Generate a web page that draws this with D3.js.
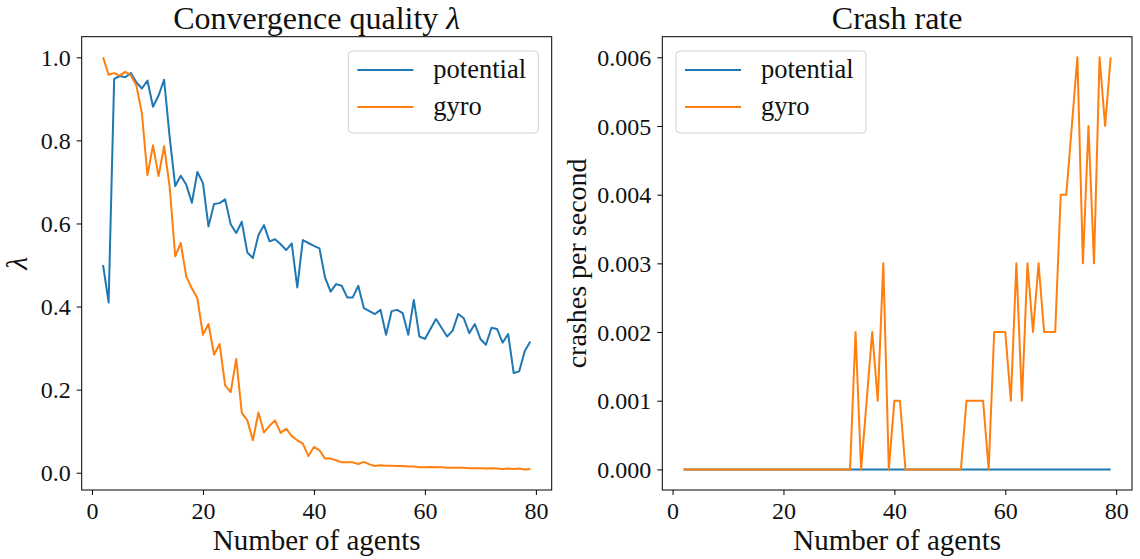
<!DOCTYPE html>
<html>
<head>
<meta charset="utf-8">
<script src="https://cdn.jsdelivr.net/npm/d3@7"></script>
<style>
  body { margin: 0; background: #fff; }
  svg { display: block; font-family: "Liberation Serif", "DejaVu Serif", serif; }
  svg text { font-family: "Liberation Serif", "DejaVu Serif", serif; }
</style>
</head>
<body>
<div id="chart"></div>
<script>
// number of agents (x values)
const agents = [2, 3, 4, 5, 6, 7, 8, 9, 10, 11, 12, 13, 14, 15, 16, 17, 18, 19, 20,
  21, 22, 23, 24, 25, 26, 27, 28, 29, 30, 31, 32, 33, 34, 35, 36, 37, 38, 39, 40,
  41, 42, 43, 44, 45, 46, 47, 48, 49, 50, 51, 52, 53, 54, 55, 56, 57, 58, 59, 60,
  61, 62, 63, 64, 65, 66, 67, 68, 69, 70, 71, 72, 73, 74, 75, 76, 77, 78, 79];

const potentialQuality = [0.50, 0.41, 0.948, 0.955, 0.952, 0.962, 0.94, 0.925, 0.944,
  0.881, 0.908, 0.946, 0.808, 0.69, 0.715, 0.693, 0.65, 0.724, 0.697,
  0.593, 0.647, 0.649, 0.658, 0.598, 0.577, 0.604, 0.53, 0.517, 0.572,
  0.596, 0.557, 0.562, 0.55, 0.536, 0.552, 0.446, 0.56, 0.553, 0.546,
  0.54, 0.47, 0.436, 0.454, 0.45, 0.422, 0.422, 0.45, 0.396, 0.389,
  0.382, 0.392, 0.332, 0.389, 0.392, 0.384, 0.332, 0.416, 0.328, 0.322,
  0.346, 0.37, 0.349, 0.328, 0.342, 0.382, 0.372, 0.336, 0.358, 0.322,
  0.308, 0.349, 0.346, 0.313, 0.334, 0.24, 0.244, 0.293, 0.316];

const gyroQuality = [1.0, 0.958, 0.962, 0.956, 0.965, 0.957, 0.932, 0.865, 0.716,
  0.788, 0.714, 0.786, 0.688, 0.521, 0.553, 0.472, 0.444, 0.42, 0.332,
  0.358, 0.284, 0.31, 0.21, 0.194, 0.274, 0.144, 0.126, 0.078, 0.145,
  0.097, 0.113, 0.126, 0.096, 0.106, 0.088, 0.078, 0.07, 0.04, 0.062,
  0.054, 0.034, 0.034, 0.03, 0.025, 0.025, 0.025, 0.021, 0.026, 0.02,
  0.016, 0.018, 0.017, 0.017, 0.016, 0.016, 0.015, 0.015, 0.013, 0.013,
  0.014, 0.013, 0.013, 0.012, 0.012, 0.012, 0.012, 0.011, 0.011, 0.011,
  0.010, 0.011, 0.010, 0.009, 0.010, 0.009, 0.010, 0.008, 0.009];

const potentialCrash = [0, 0, 0, 0, 0, 0, 0, 0, 0, 0, 0, 0, 0, 0, 0, 0, 0, 0, 0,
  0, 0, 0, 0, 0, 0, 0, 0, 0, 0, 0, 0, 0, 0, 0, 0, 0, 0, 0, 0,
  0, 0, 0, 0, 0, 0, 0, 0, 0, 0, 0, 0, 0, 0, 0, 0, 0, 0, 0, 0,
  0, 0, 0, 0, 0, 0, 0, 0, 0, 0, 0, 0, 0, 0, 0, 0, 0, 0, 0];

const gyroCrash = [0, 0, 0, 0, 0, 0, 0, 0, 0, 0, 0, 0, 0, 0, 0, 0, 0, 0, 0,
  0, 0, 0, 0, 0, 0, 0, 0, 0, 0, 0, 0, 0.002, 0, 0.001, 0.002, 0.001, 0.003, 0, 0.001,
  0.001, 0, 0, 0, 0, 0, 0, 0, 0, 0, 0, 0, 0.001, 0.001, 0.001, 0.001, 0, 0.002, 0.002, 0.002,
  0.001, 0.003, 0.001, 0.003, 0.002, 0.003, 0.002, 0.002, 0.002, 0.004, 0.004, 0.005, 0.006, 0.003, 0.005, 0.003, 0.006, 0.005, 0.006];

const seriesNames = ["potential", "gyro"];
const xTicks = [0, 20, 40, 60, 80];
const qualityTicks = [0.0, 0.2, 0.4, 0.6, 0.8, 1.0];
const crashTicks = [0.000, 0.001, 0.002, 0.003, 0.004, 0.005, 0.006];

const colors = ["#1f77b4", "#ff7f0e"];
const W = 1140, H = 559;
const serif = "'Liberation Serif', 'DejaVu Serif', serif";

const svg = d3.select("#chart").append("svg")
  .attr("width", W)
  .attr("height", H);

// matplotlib-style 5% margins
function padded(extent) {
  const d = (extent[1] - extent[0]) * 0.05;
  return [extent[0] - d, extent[1] + d];
}

function drawPanel(opts) {
  const xDom = padded(d3.extent(agents));
  const allY = opts.series.flat();
  const yDom = padded(d3.extent(allY));

  const x = d3.scaleLinear().domain(xDom).range([opts.left, opts.right]);
  const y = d3.scaleLinear().domain(yDom).range([opts.bottom, opts.top]);

  const g = svg.append("g");

  // lines
  const line = d3.line()
    .x((d, i) => x(agents[i]))
    .y(d => y(d));

  opts.series.forEach((s, k) => {
    g.append("path")
      .datum(s)
      .attr("fill", "none")
      .attr("stroke", colors[k])
      .attr("stroke-width", 2)
      .attr("stroke-linejoin", "round")
      .attr("d", line);
  });

  // axes
  const xAxis = g.append("g")
    .attr("transform", `translate(0,${opts.bottom})`)
    .call(d3.axisBottom(x).tickValues(xTicks).tickSize(5).tickPadding(7).tickFormat(d3.format("d")));
  const yAxis = g.append("g")
    .attr("transform", `translate(${opts.left},0)`)
    .call(d3.axisLeft(y).tickValues(opts.yTicks).tickSize(5).tickPadding(6).tickFormat(d3.format(opts.yFormat)));

  [xAxis, yAxis].forEach(a => {
    a.attr("font-family", null).attr("font-size", null);
    a.select(".domain").remove();
    a.selectAll("line").attr("stroke", "#000").attr("stroke-width", 1);
    a.selectAll("text")
      .attr("fill", "#111")
      .style("font-family", serif)
      .style("font-size", "24px");
  });
  yAxis.selectAll("text").attr("dy", "0.34em");
  xAxis.selectAll("text").attr("dy", "0.72em");

  // frame
  g.append("rect")
    .attr("x", opts.left)
    .attr("y", opts.top)
    .attr("width", opts.right - opts.left)
    .attr("height", opts.bottom - opts.top)
    .attr("fill", "none")
    .attr("stroke", "#000")
    .attr("stroke-width", 1);

  const cx = (opts.left + opts.right) / 2;

  // title
  g.append("text")
    .attr("x", cx)
    .attr("y", 29)
    .attr("text-anchor", "middle")
    .style("font-size", "32px")
    .attr("fill", "#111")
    .html(opts.title);

  // x label
  g.append("text")
    .attr("x", cx)
    .attr("y", 550)
    .attr("text-anchor", "middle")
    .style("font-size", "29px")
    .attr("fill", "#111")
    .text("Number of agents");

  // y label
  g.append("text")
    .attr("transform", `translate(${opts.yLabelX},${(opts.top + opts.bottom) / 2}) rotate(-90)`)
    .attr("text-anchor", "middle")
    .style("font-size", opts.yLabelSize)
    .style("font-style", opts.yLabelItalic ? "italic" : "normal")
    .attr("fill", "#111")
    .text(opts.yLabel);

  // legend
  const lg = g.append("g").attr("transform", `translate(${opts.legendX},51)`);
  lg.append("rect")
    .attr("width", 190)
    .attr("height", 82)
    .attr("rx", 4)
    .attr("fill", "#fff")
    .attr("fill-opacity", 0.8)
    .attr("stroke", "#d0d0d0")
    .attr("stroke-width", 1);
  seriesNames.forEach((name, k) => {
    const yy = 19 + k * 37;
    lg.append("line")
      .attr("x1", 9).attr("x2", 65)
      .attr("y1", yy).attr("y2", yy)
      .attr("stroke", colors[k])
      .attr("stroke-width", 2);
    lg.append("text")
      .attr("x", 85)
      .attr("y", yy)
      .attr("dy", "0.3em")
      .style("font-size", "26.5px")
      .attr("fill", "#111")
      .text(name);
  });
}

drawPanel({
  left: 81.7, right: 551.7, top: 36.7, bottom: 490,
  series: [potentialQuality, gyroQuality],
  yTicks: qualityTicks, yFormat: ".1f",
  title: "Convergence quality <tspan font-style='italic'>λ</tspan>",
  yLabel: "λ", yLabelX: 27, yLabelSize: "30px", yLabelItalic: true,
  legendX: 348.3
});

drawPanel({
  left: 662.3, right: 1132, top: 36.7, bottom: 490,
  series: [potentialCrash, gyroCrash],
  yTicks: crashTicks, yFormat: ".3f",
  title: "Crash rate",
  yLabel: "crashes per second", yLabelX: 586, yLabelSize: "28px", yLabelItalic: false,
  legendX: 676
});
</script>
</body>
</html>
